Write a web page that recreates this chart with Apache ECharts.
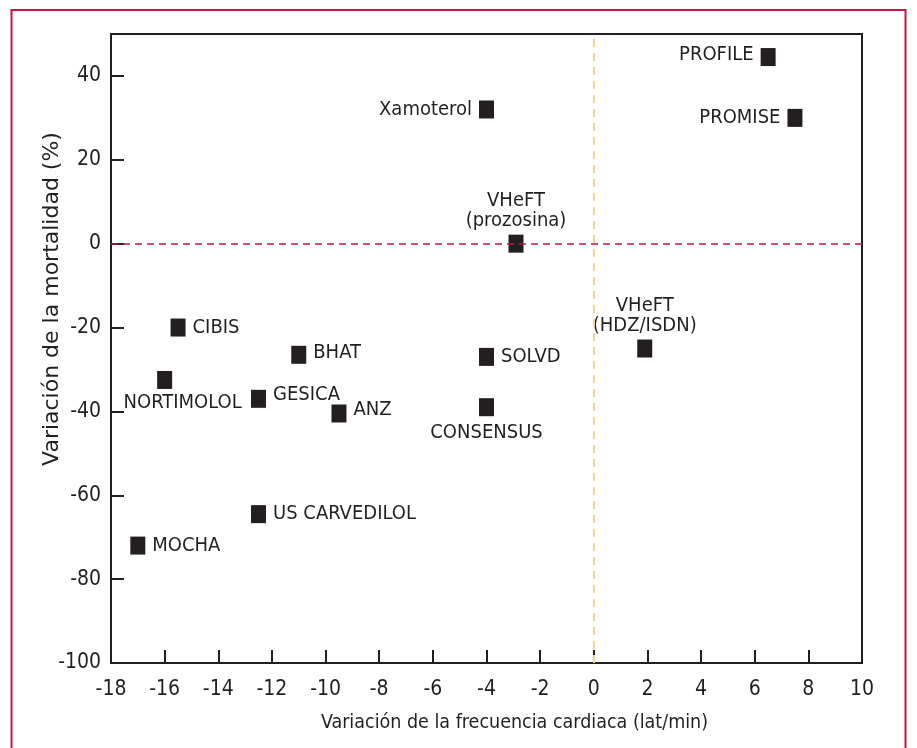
<!DOCTYPE html>
<html>
<head>
<meta charset="utf-8">
<script src="https://cdn.jsdelivr.net/npm/echarts@6/dist/echarts.min.js"></script>
<style>
  html, body { margin: 0; padding: 0; background: #ffffff; }
  #chart { width: 917px; height: 748px; }
</style>
</head>
<body>
<div id="chart"></div>
<script>
// Trial names
const trials = ['PROFILE', 'PROMISE', 'Xamoterol', 'VHeFT\n(prozosina)', 'VHeFT\n(HDZ/ISDN)',
  'CIBIS', 'BHAT', 'NORTIMOLOL', 'GESICA', 'ANZ', 'SOLVD', 'CONSENSUS', 'US CARVEDILOL', 'MOCHA'];
// Change in heart rate (beats/min)
const heartRateChange = [6.5, 7.5, -4, -2.9, 1.9, -15.5, -11, -16, -12.5, -9.5, -4, -4, -12.5, -17];
// Change in mortality (%)
const mortalityChange = [44.5, 30, 32, 0, -25, -20, -26.5, -32.5, -37, -40.5, -27, -39, -64.5, -72];

// Axis ranges and tick steps
const xRange = [-18, 10];
const xStep = 2;
const yRange = [-100, 50];
const yStep = 20;

const FONT = '"Liberation Sans Narrow", "DejaVu Sans Condensed", "Liberation Sans", sans-serif';
const WIDE_FONT = '"DejaVu Sans", "Liberation Sans", sans-serif';
const INK = '#231f20';

// Where each trial's label sits relative to its marker
const labelSide = {
  'PROFILE': 'left', 'PROMISE': 'left', 'Xamoterol': 'left',
  'VHeFT\n(prozosina)': 'top', 'VHeFT\n(HDZ/ISDN)': 'top',
  'CIBIS': 'right', 'BHAT': 'right', 'NORTIMOLOL': 'bottom',
  'GESICA': 'right', 'ANZ': 'right', 'SOLVD': 'right',
  'CONSENSUS': 'bottom', 'US CARVEDILOL': 'right', 'MOCHA': 'right'
};
const labelShift = {
  'NORTIMOLOL': [18, 0], 'GESICA': [0, -4], 'ANZ': [0, -4], 'BHAT': [0, -2],
  'PROFILE': [0, -2], 'CONSENSUS': [0, 3]
};

const points = trials.map((name, i) => {
  const side = labelSide[name];
  const item = {
    name: name,
    value: [heartRateChange[i], mortalityChange[i]],
    label: {
      position: side,
      distance: side === 'top' || side === 'bottom' ? 4 : 7,
      align: side === 'left' ? 'right' : side === 'right' ? 'left' : 'center'
    }
  };
  if (labelShift[name]) item.label.offset = labelShift[name];
  return item;
});

const chart = echarts.init(document.getElementById('chart'), null, { renderer: 'canvas' });

chart.setOption({
  backgroundColor: '#ffffff',
  animation: false,
  textStyle: { fontFamily: FONT },
  graphic: [{
    type: 'rect',
    shape: { x: 11.5, y: 10, width: 894, height: 800 },
    style: { fill: 'none', stroke: '#c4163f', lineWidth: 2 },
    silent: true,
    z: -1
  }],
  grid: {
    left: 111, right: 55, top: 34, bottom: 85,
    show: true,
    borderColor: INK,
    borderWidth: 2,
    backgroundColor: 'transparent'
  },
  xAxis: {
    type: 'value',
    min: xRange[0], max: xRange[1], interval: xStep,
    name: 'Variación de la frecuencia cardiaca (lat/min)',
    nameLocation: 'middle',
    nameGap: 50,
    nameMoveOverlap: false,
    nameTextStyle: { fontFamily: FONT, fontSize: 19.5, color: INK, padding: [0, 0, 0, 56] },
    axisLine: { show: true, onZero: false, lineStyle: { color: INK, width: 2 } },
    axisTick: { show: true, inside: true, length: 13, lineStyle: { color: INK, width: 2 } },
    axisLabel: { fontFamily: FONT, fontSize: 21, color: INK, margin: 16 },
    splitLine: { show: false }
  },
  yAxis: {
    type: 'value',
    min: yRange[0], max: yRange[1], interval: yStep,
    name: 'Variación de la mortalidad (%)',
    nameLocation: 'middle',
    nameGap: 48,
    nameMoveOverlap: false,
    nameTextStyle: { fontFamily: WIDE_FONT, fontSize: 22, color: INK, padding: [0, 0, 0, 99] },
    axisLine: { show: true, onZero: false, lineStyle: { color: INK, width: 2 } },
    axisTick: { show: true, inside: true, length: 13, lineStyle: { color: INK, width: 2 } },
    axisLabel: {
      fontFamily: FONT, fontSize: 21, color: INK, margin: 10,
      showMaxLabel: false,
      formatter: v => (v % yStep === 0 ? String(v) : '')
    },
    splitLine: { show: false }
  },
  series: [
    {
      // Reference lines at zero change
      type: 'scatter',
      data: [],
      z: 1,
      markLine: {
        silent: true,
        symbol: 'none',
        label: { show: false },
        data: [
          { yAxis: 0, lineStyle: { color: '#c0143c', width: 1.5, type: [7, 5], opacity: 1 } },
          { xAxis: 0, lineStyle: { color: '#fbd294', width: 2, type: [8, 6], opacity: 1 } }
        ]
      }
    },
    {
      type: 'scatter',
      z: 3,
      symbol: 'rect',
      symbolSize: [15, 18],
      itemStyle: { color: INK, opacity: 1 },
      label: {
        show: true,
        fontFamily: FONT,
        fontSize: 20,
        lineHeight: 20,
        color: INK,
        opacity: 1,
        formatter: p => p.name
      },
      data: points
    }
  ]
});
</script>
</body>
</html>
